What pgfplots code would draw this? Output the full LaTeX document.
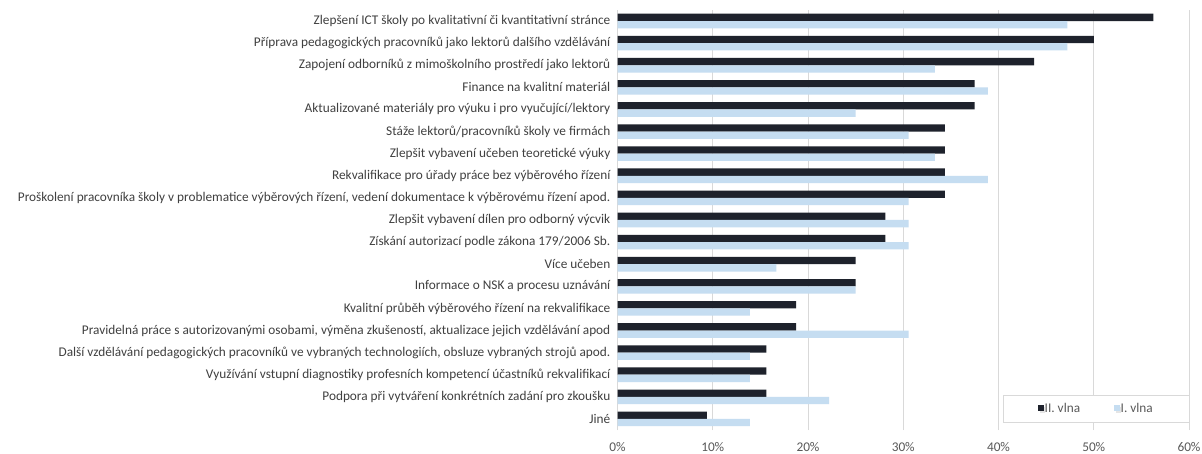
\documentclass[border=0pt]{standalone}
\usepackage{fontspec}
\setmainfont{Carlito}
\usepackage{pgfplots}
\pgfplotsset{compat=1.18}
\usetikzlibrary{shadows}
\definecolor{darkbar}{HTML}{1E222C}
\definecolor{lightbar}{HTML}{C5DDF1}
\definecolor{gridc}{HTML}{D9D9D9}
\definecolor{labc}{HTML}{404040}
\definecolor{tickc}{HTML}{595959}
\begin{document}
\begin{tikzpicture}
\path[use as bounding box, fill=white] (0,0) rectangle (1202bp,454bp);
\begin{axis}[
  at={(617.5bp,24bp)}, anchor=south west,
  width=571.5bp, height=420bp, scale only axis,
  xbar, bar width=7.3bp,
  xmin=0, xmax=60, ymin=-0.5, ymax=18.5,
  xtick={0,10,20,30,40,50,60},
  xticklabels={0\%,10\%,20\%,30\%,40\%,50\%,60\%},
  ytick={0,...,18},
  yticklabels={
    Jiné,
    Podpora při vytváření konkrétních zadání pro zkoušku,
    Využívání vstupní diagnostiky profesních kompetencí účastníků rekvalifikací,
    {Další vzdělávání pedagogických pracovníků ve vybraných technologiích, obsluze vybraných strojů apod.},
    {Pravidelná práce s autorizovanými osobami, výměna zkušeností, aktualizace jejich vzdělávání apod},
    Kvalitní průběh výběrového řízení na rekvalifikace,
    Informace o NSK a procesu uznávání,
    Více učeben,
    Získání autorizací podle zákona 179/2006 Sb.,
    Zlepšit vybavení dílen pro odborný výcvik,
    {Proškolení pracovníka školy v problematice výběrových řízení, vedení dokumentace k výběrovému řízení apod.},
    Rekvalifikace pro úřady práce bez výběrového řízení,
    Zlepšit vybavení učeben teoretické výuky,
    Stáže lektorů/pracovníků školy ve firmách,
    Aktualizované materiály pro výuku i pro vyučující/lektory,
    Finance na kvalitní materiál,
    Zapojení odborníků z mimoškolního prostředí jako lektorů,
    Příprava pedagogických pracovníků jako lektorů dalšího vzdělávání,
    Zlepšení ICT školy po kvalitativní či kvantitativní stránce},
  major tick length=0pt,
  axis line style={draw=none},
  xmajorgrids, ymajorgrids=false,
  grid style={draw=gridc, line width=0.75bp},
  yticklabel style={font=\fontsize{13.3bp}{15bp}\selectfont, text=labc, inner sep=0pt, xshift=-7bp},
  xticklabel style={font=\fontsize{13.3bp}{15bp}\selectfont, text=tickc, inner sep=0pt, yshift=-12bp},
  legend style={at={(1,0)}, anchor=south east, yshift=8bp,
    draw=gridc, fill=white, inner xsep=35bp, inner ysep=7bp,
    font=\fontsize{13.3bp}{15bp}\selectfont, text=tickc,
    nodes={inner sep=1bp},
    drop shadow={shadow xshift=1.5bp, shadow yshift=-1.5bp, fill=black!20},
    /tikz/every even column/.append style={column sep=33bp}},
  legend columns=2,
  legend image code/.code={\fill[#1] (0bp,-3bp) rectangle (5.5bp,3bp);},
]
\addplot[fill=darkbar, draw=none, bar shift=3.65bp] coordinates {
  (56.25,18) (50,17) (43.75,16) (37.5,15) (37.5,14) (34.375,13) (34.375,12)
  (34.375,11) (34.375,10) (28.125,9) (28.125,8) (25,7) (25,6) (18.75,5)
  (18.75,4) (15.625,3) (15.625,2) (15.625,1) (9.375,0)};
\addlegendentry{II. vlna}
\addplot[fill=lightbar, draw=none, bar shift=-3.65bp] coordinates {
  (47.22,18) (47.22,17) (33.33,16) (38.89,15) (25,14) (30.56,13) (33.33,12)
  (38.89,11) (30.56,10) (30.56,9) (30.56,8) (16.67,7) (25,6) (13.89,5)
  (30.56,4) (13.89,3) (13.89,2) (22.22,1) (13.89,0)};
\addlegendentry{I. vlna}
\end{axis}
\end{tikzpicture}
\end{document}
